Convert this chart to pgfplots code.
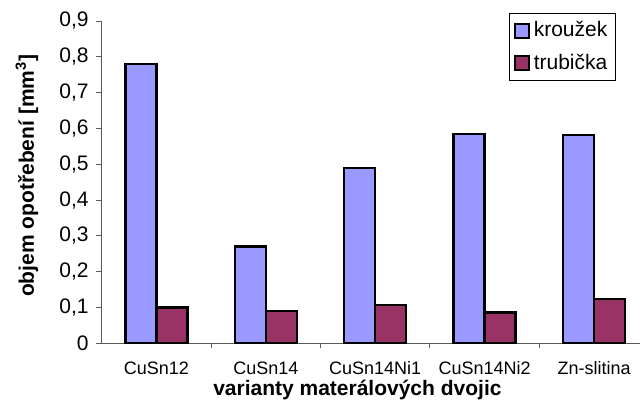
\documentclass[border=0pt]{standalone}
\usepackage{fontspec}
\setmainfont{Liberation Sans}
\usepackage{pgfplots}
\pgfplotsset{compat=1.18}
\definecolor{krouzek}{RGB}{153,153,255}
\definecolor{trubicka}{RGB}{153,51,102}
\definecolor{axgray}{RGB}{90,90,90}
\begin{document}
\begin{tikzpicture}
\begin{axis}[
  at={(0,0)}, anchor=south west,
  scale only axis,
  width=269.15pt, height=161.15pt,
  ymin=0, ymax=0.9,
  xmin=-0.5, xmax=4.42,
  ybar=0pt, bar width=15.5pt,
  axis x line*=bottom, axis y line*=left,
  axis line style={axgray, line width=0.5pt, -},
  ytick={0,0.1,...,0.9},
  /pgf/number format/assume math mode=true,
  /pgf/number format/.cd, use comma, fixed, precision=1, /pgfplots/.cd,
  yticklabel style={font=\fontsize{10.5}{12}\selectfont},
  ytick style={axgray, line width=0.5pt},
  tick align=outside,
  major tick length=3pt,
  xtick={0,1,2,3,4},
  xticklabels={CuSn12,CuSn14,CuSn14Ni1,CuSn14Ni2,Zn-slitina},
  xtick style={draw=none},
  xticklabel style={font=\fontsize{9}{11}\selectfont, at={(axis cs:\tick,0)}, anchor=center, yshift=-9.6pt},
  extra x ticks={0.5,1.5,2.5,3.5},
  extra x tick labels={},
  extra x tick style={xtick style={axgray, line width=0.5pt, draw=axgray}, major tick length=2.5pt},
  ylabel={\textbf{objem opotřebení [mm\textsuperscript{3}]}},
  ylabel style={font=\fontsize{10.5}{12}\selectfont, at={(rel axis cs:-0.1388,0.52)}, anchor=center},
  xlabel={\textbf{varianty materálových dvojic}},
  xlabel style={font=\fontsize{10.5}{12}\selectfont, at={(rel axis cs:0.475,0)}, anchor=center, yshift=-23.2pt},
  legend style={at={(rel axis cs:0.955,1.025)}, anchor=north east,
    font=\fontsize{10.5}{12}\selectfont, draw=black, line width=0.5pt,
    inner xsep=2pt, inner ysep=2pt, row sep=3pt,
    /tikz/every even column/.append style={column sep=0pt}},
  legend cell align=left,
  legend image code/.code={\draw[#1, line width=1pt] (0pt,-3.5pt) rectangle (7pt,3.5pt);},
]
\addplot[fill=krouzek, draw=black, line width=1.2pt] coordinates {(0,0.78) (1,0.27) (2,0.49) (3,0.585) (4,0.582)};
\addplot[fill=trubicka, draw=black, line width=1.2pt] coordinates {(0,0.10) (1,0.09) (2,0.107) (3,0.086) (4,0.124)};
\legend{kroužek,trubička}
\end{axis}
\pgfresetboundingbox
\path[use as bounding box] (-50.85pt,-28.35pt) rectangle (269.15pt,171.65pt);
\end{tikzpicture}
\end{document}
